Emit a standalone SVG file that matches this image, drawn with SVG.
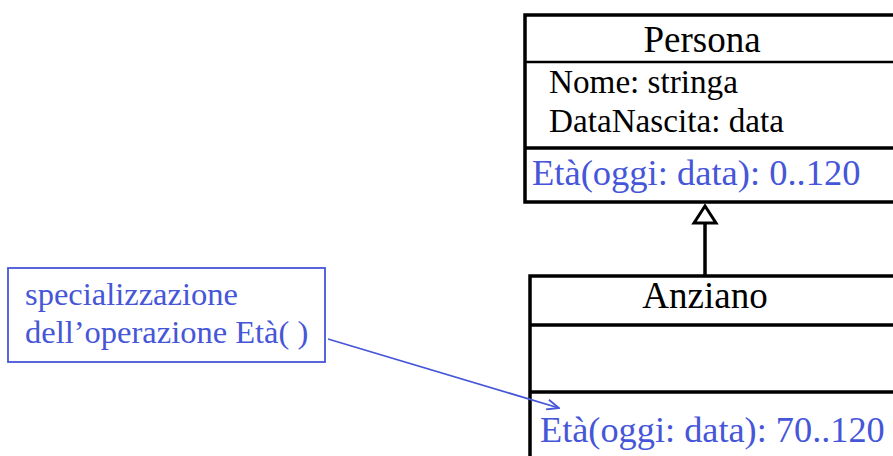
<svg xmlns="http://www.w3.org/2000/svg" width="893" height="456" viewBox="0 0 893 456">
<defs>
<style>
.t{font-family:"Liberation Serif","Times New Roman",serif;fill:#000}
.b{font-family:"Liberation Serif","Times New Roman",serif;fill:#4656d8}
.box{fill:#fff;stroke:#000;stroke-width:3.5}
.sep{stroke:#000;stroke-width:3.5}
</style>
<marker id="open" viewBox="0 0 14 12" refX="13" refY="6" markerWidth="14" markerHeight="12" markerUnits="userSpaceOnUse" orient="auto">
<path d="M1,1 L13,6 L1,11" fill="none" stroke="#4656d8" stroke-width="1.8"/>
</marker>
</defs>
<rect width="893" height="456" fill="#fff"/>
<g id="persona">
<rect class="box" x="525" y="15" width="400" height="187"/>
<line class="sep" x1="525" y1="62" x2="893" y2="62" style="stroke-width:2.5"/>
<line class="sep" x1="525" y1="148" x2="893" y2="148"/>
<text class="t" x="702" y="52" font-size="37" text-anchor="middle">Persona</text>
<text class="t" x="549" y="93" font-size="33.2">Nome: stringa</text>
<text class="t" x="549" y="132" font-size="33.2">DataNascita: data</text>
<text class="b" x="532" y="185" font-size="36.5">Età(oggi: data): 0..120</text>
</g>
<g id="anziano">
<rect class="box" x="530" y="276" width="400" height="200"/>
<line class="sep" x1="530" y1="325" x2="893" y2="325"/>
<line class="sep" x1="530" y1="392" x2="893" y2="392"/>
<text class="t" x="705" y="308" font-size="37" text-anchor="middle">Anziano</text>
<text class="b" x="540" y="442" font-size="36.3">Età(oggi: data): 70..120</text>
</g>
<g id="nota">
<rect x="8" y="268" width="317" height="94" fill="#fff" stroke="#4656d8" stroke-width="1.8"/>
<text class="b" x="25" y="305" font-size="32.5">specializzazione</text>
<text class="b" x="25" y="343" font-size="32.5">dell’operazione Età( )</text>
</g>
<g id="connectors">
<line x1="705" y1="276" x2="705" y2="223" stroke="#000" stroke-width="3.5"/>
<polygon points="705,206 694,223 716,223" fill="#fff" stroke="#000" stroke-width="3"/>
<line x1="328" y1="339" x2="559" y2="408" stroke="#4656d8" stroke-width="1.8" marker-end="url(#open)"/>
</g>
</svg>
